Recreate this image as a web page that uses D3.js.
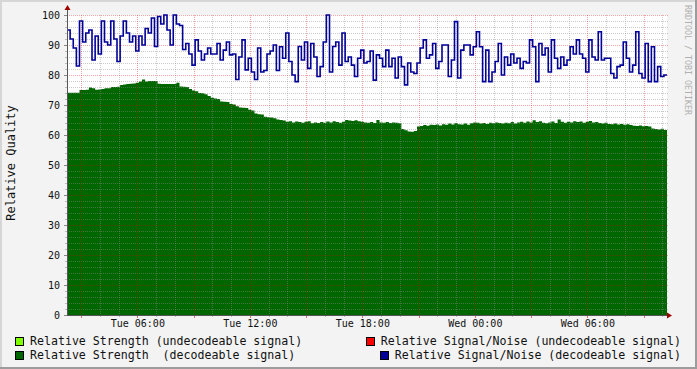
<!DOCTYPE html>
<html>
<head>
<meta charset="utf-8">
<script src="https://cdn.jsdelivr.net/npm/d3@7/dist/d3.min.js"></script>
<style>
  body { margin: 0; background: #f3f3f3; }
  text { font-family: "DejaVu Sans Mono", monospace; }
</style>
</head>
<body>
<div id="chart"></div>
<script>
//Time range of the graph (Tue 02:15 -> Wed 10:15), one sample every 10 minutes
var startTime = new Date(2000, 0, 4, 2, 15);
var endTime = new Date(2000, 0, 5, 10, 15);
var stepMinutes = 10;

//Relative Signal/Noise (decodeable signal)
var snrDecodeable = [
  95, 92, 89, 83, 98, 91, 94, 95, 85, 93, 87, 98, 91, 90, 98, 92, 84.5, 93, 98, 94, 91, 93, 88, 93, 90, 95.5, 94, 99, 89.5, 99.5, 97, 100,
  95, 90, 100, 97, 96.5, 88.5, 90.5, 87, 83.3, 91.7, 88, 85, 87, 89, 87, 87, 90.5, 85, 88.3, 91, 86.7, 87, 78.5, 86, 91.7, 81.7, 85.6, 81, 78.5, 89, 81, 81.5,
  87, 88, 90, 81.5, 89.4, 85.6, 94, 84.5, 80, 77.8, 89.5, 85, 91, 82.2, 90.5, 86, 79.5, 82.8, 91, 100, 81, 89.5, 91, 83.3, 94, 84.5, 86, 83.3, 79.5, 85.6, 88.3, 84,
  84.5, 88, 78.3, 86.7, 85.6, 82.8, 88.3, 82.8, 85.6, 79, 86, 82.8, 76.7, 84, 81, 80.5, 84, 89, 91.7, 85.6, 86.7, 90.5, 82.2, 84.5, 90, 90, 79.5, 85, 97.8, 79, 88.3, 90,
  90, 86.7, 89.4, 94.4, 89.4, 77.8, 88.3, 77.8, 81, 84.5, 90.5, 80, 86, 83.3, 87, 84, 85.6, 82.2, 84.5, 84, 91.7, 89.4, 77.8, 90.5, 86.7, 89, 81, 91.7, 85.6, 82.2, 86, 83.3,
  85, 89.4, 87, 91.7, 87, 85.6, 81, 91.7, 86, 85, 94.4, 85, 85.6, 85.6, 80.5, 79, 82.8, 83.3, 91, 85.6, 81, 83.3, 94.4, 80.5, 79, 90.5, 77.8, 89.4, 77.8, 82.8, 79.5, 80
];
//Relative Strength (decodeable signal)
var strengthDecodeable = [
  74.1, 74.1, 74.1, 74.1, 75, 75, 75.1, 75.8, 75.6, 75.1, 75.2, 75.3, 75.6, 75.6, 76, 76, 76.1, 76.7, 76.8, 77, 77.1, 77.2, 77.4, 77.8, 78.5, 77.8, 78, 78, 78, 77.1, 77, 77,
  77, 77, 77, 77.4, 76.2, 76.1, 76, 75.3, 74.8, 74.6, 74, 73.9, 73.6, 73, 72.4, 72.2, 72, 71.2, 71.1, 71, 70.3, 70.2, 69.6, 69.2, 69.1, 69, 68.4, 68.2, 67.2, 66.9, 66.8, 66.1,
  65.9, 65.8, 65.6, 65.2, 65, 64.8, 64.4, 64.6, 64.2, 64.5, 64.3, 64.1, 64.4, 64.6, 63.9, 64.2, 64, 64.3, 64.1, 64.5, 64.2, 64.6, 64.3, 64.1, 64.4, 65, 64.8, 64.7, 64.9, 64.6, 64.4, 64.2,
  64.1, 64.3, 64, 65, 64.2, 64.1, 64.3, 64, 64.2, 64.1, 63.9, 62, 61.6, 61.2, 61.1, 61.3, 62.8, 63, 63.3, 63.1, 63.4, 63.3, 63.5, 63.2, 63.6, 63.4, 63.8, 63.5, 64, 63.6, 63.5, 63.8,
  63.4, 63.9, 64.2, 64.1, 63.8, 64, 63.7, 64.1, 63.9, 64.2, 64, 63.8, 64.1, 63.9, 64.3, 63.8, 64.2, 64.4, 64.1, 64.5, 64.2, 64.9, 64.3, 64.6, 64.1, 63.9, 64.2, 64.5, 64, 65.2, 64.4, 64.1,
  64.4, 64.2, 64.6, 64.3, 64.5, 64.1, 64.4, 64.7, 64.2, 64.3, 64, 63.8, 64.1, 63.7, 63.6, 63.8, 63.5, 63.7, 63.4, 63.6, 63.3, 63.1, 63, 63.2, 62.9, 63, 62.8, 62.2, 62, 61.8, 62.1, 61.7
];
//Undecodeable series have no samples in this period
var strengthUndecodeable = [];
var snrUndecodeable = [];

var yTickValues = [0, 10, 20, 30, 40, 50, 60, 70, 80, 90, 100];
var legendLeft = [
  { label: "Relative Strength (undecodeable signal)", color: "#80ff00" },
  { label: "Relative Strength  (decodeable signal)", color: "#006600" }
];
var legendRight = [
  { label: "Relative Signal/Noise (undecodeable signal)", color: "#ff0000" },
  { label: "Relative Signal/Noise (decodeable signal)", color: "#000099" }
];

//Set sizes
var width = 697, height = 369;
var plot = { left: 67, right: 667, top: 15, bottom: 315 };

var svg = d3.select("#chart").append("svg")
  .attr("width", width)
  .attr("height", height)
  .style("display", "block");

//Background and 3d frame
svg.append("rect").attr("width", width).attr("height", height).attr("fill", "#f3f3f3");
svg.append("rect").attr("x", 0).attr("y", 0).attr("width", width).attr("height", 2).attr("fill", "#d6d6d6");
svg.append("rect").attr("x", 0).attr("y", 0).attr("width", 2).attr("height", height).attr("fill", "#d6d6d6");
svg.append("rect").attr("x", width - 2).attr("y", 0).attr("width", 2).attr("height", height).attr("fill", "#9c9c9c");
svg.append("rect").attr("x", 0).attr("y", height - 2).attr("width", width).attr("height", 2).attr("fill", "#9c9c9c");

//Canvas
svg.append("rect")
  .attr("x", plot.left).attr("y", plot.top)
  .attr("width", plot.right - plot.left).attr("height", plot.bottom - plot.top)
  .attr("fill", "#ffffff");

//Scales
var x = d3.scaleTime().domain([startTime, endTime]).range([plot.left, plot.right]);
var y = d3.scaleLinear().domain([0, 100]).range([plot.bottom, plot.top]);

function toPoints(values) {
  var pts = values.map(function(v, i) {
    return { t: new Date(startTime.getTime() + i * stepMinutes * 60000), v: v };
  });
  //close the last step
  pts.push({ t: new Date(startTime.getTime() + values.length * stepMinutes * 60000), v: values[values.length - 1] });
  return pts;
}

//Green area
var area = d3.area()
  .curve(d3.curveStepAfter)
  .x(function(d) { return x(d.t); })
  .y0(y(0))
  .y1(function(d) { return y(d.v); });
svg.append("path")
  .datum(toPoints(strengthDecodeable))
  .attr("d", area)
  .attr("fill", "#006600");

//Grid (drawn over the area, like rrdtool)
var px = function(v) { return Math.round(v) + 0.5; };
var minorH = y.ticks(50).filter(function(v) { return v % 10 !== 0; });
var majorH = yTickValues;
var minorV = x.ticks(d3.timeHour.every(1)).filter(function(d) { return d.getHours() % 3 !== 0; });
var majorV = x.ticks(d3.timeHour.every(3));

var grid = svg.append("g").attr("shape-rendering", "crispEdges");
grid.selectAll(".hminor").data(minorH).enter().append("line")
  .attr("x1", plot.left).attr("x2", plot.right + 2)
  .attr("y1", function(d) { return px(y(d)); }).attr("y2", function(d) { return px(y(d)); })
  .attr("stroke", "rgba(140,140,140,0.45)").attr("stroke-dasharray", "1,1");
grid.selectAll(".vminor").data(minorV).enter().append("line")
  .attr("y1", plot.top).attr("y2", plot.bottom)
  .attr("x1", function(d) { return px(x(d)); }).attr("x2", function(d) { return px(x(d)); })
  .attr("stroke", "rgba(140,140,140,0.45)").attr("stroke-dasharray", "1,1");
grid.selectAll(".hmajor").data(majorH.slice(1)).enter().append("line")
  .attr("x1", plot.left).attr("x2", plot.right + 2)
  .attr("y1", function(d) { return px(y(d)); }).attr("y2", function(d) { return px(y(d)); })
  .attr("stroke", "rgba(230,0,0,0.35)").attr("stroke-dasharray", "1,1");
grid.selectAll(".vmajor").data(majorV).enter().append("line")
  .attr("y1", plot.top).attr("y2", plot.bottom)
  .attr("x1", function(d) { return px(x(d)); }).attr("x2", function(d) { return px(x(d)); })
  .attr("stroke", "rgba(230,0,0,0.35)").attr("stroke-dasharray", "1,1");

//Tick marks
grid.selectAll(".yt").data(minorH).enter().append("line")
  .attr("x1", plot.left - 2).attr("x2", plot.left)
  .attr("y1", function(d) { return px(y(d)); }).attr("y2", function(d) { return px(y(d)); })
  .attr("stroke", "#bbbbbb");
grid.selectAll(".ytm").data(majorH).enter().append("line")
  .attr("x1", plot.left - 3).attr("x2", plot.left)
  .attr("y1", function(d) { return px(y(d)); }).attr("y2", function(d) { return px(y(d)); })
  .attr("stroke", "#888888");
grid.selectAll(".xt").data(minorV).enter().append("line")
  .attr("y1", plot.bottom).attr("y2", plot.bottom + 2)
  .attr("x1", function(d) { return px(x(d)); }).attr("x2", function(d) { return px(x(d)); })
  .attr("stroke", "#bbbbbb");
grid.selectAll(".xtm").data(majorV).enter().append("line")
  .attr("y1", plot.bottom).attr("y2", plot.bottom + 3)
  .attr("x1", function(d) { return px(x(d)); }).attr("x2", function(d) { return px(x(d)); })
  .attr("stroke", "#e07070");

//Blue line
var line = d3.line()
  .curve(d3.curveStepAfter)
  .x(function(d) { return x(d.t); })
  .y(function(d) { return y(d.v); });
svg.append("path")
  .datum(toPoints(snrDecodeable))
  .attr("d", line)
  .attr("fill", "none")
  .attr("stroke", "#000099")
  .attr("stroke-width", 1.6);

//Axes lines with arrows
svg.append("line")
  .attr("x1", plot.left + 0.5).attr("x2", plot.left + 0.5)
  .attr("y1", plot.bottom).attr("y2", plot.top - 6)
  .attr("stroke", "#555").attr("shape-rendering", "crispEdges");
svg.append("line")
  .attr("x1", plot.left).attr("x2", plot.right + 3)
  .attr("y1", plot.bottom + 0.5).attr("y2", plot.bottom + 0.5)
  .attr("stroke", "#555").attr("shape-rendering", "crispEdges");
svg.append("path")
  .attr("d", "M" + (plot.left - 2.5) + "," + (plot.top - 5) + "L" + (plot.left + 0.5) + "," + (plot.top - 10) + "L" + (plot.left + 3.5) + "," + (plot.top - 5) + "Z")
  .attr("fill", "#a00000");
svg.append("path")
  .attr("d", "M" + (plot.right) + "," + (plot.bottom - 2.5) + "L" + (plot.right + 5) + "," + (plot.bottom + 0.5) + "L" + (plot.right) + "," + (plot.bottom + 3.5) + "Z")
  .attr("fill", "#a00000");

//Y labels
svg.append("g").selectAll("text").data(yTickValues).enter().append("text")
  .attr("x", plot.left - 7)
  .attr("y", function(d) { return y(d) + 3.5; })
  .attr("text-anchor", "end")
  .attr("font-size", "10px")
  .attr("fill", "#111")
  .text(function(d) { return d; });

//X labels via d3 axis
var xAxis = d3.axisBottom(x)
  .ticks(d3.timeHour.every(6))
  .tickSize(0)
  .tickPadding(0)
  .tickFormat(d3.timeFormat("%a %H:%M"));
var xg = svg.append("g")
  .attr("transform", "translate(0," + (plot.bottom + 5) + ")")
  .call(xAxis);
xg.select(".domain").remove();
xg.selectAll("text")
  .attr("font-family", "DejaVu Sans Mono, monospace")
  .attr("font-size", "10px")
  .attr("fill", "#111")
  .attr("dy", "0.71em");
xg.selectAll(".tick").filter(function(d) { return x(d) < plot.left + 20; }).remove();

//Y title
svg.append("text")
  .attr("transform", "translate(15,163) rotate(-90)")
  .attr("text-anchor", "middle")
  .attr("font-size", "12px")
  .attr("fill", "#111")
  .text("Relative Quality");

//Watermark
svg.append("text")
  .attr("transform", "translate(685,5) rotate(90)")
  .attr("font-size", "8.3px")
  .attr("fill", "#b0b0b0")
  .text("RRDTOOL / TOBI OETIKER");

//Legend
var rowY = [345, 359];
legendLeft.forEach(function(d, i) {
  svg.append("rect")
    .attr("x", 15.5).attr("y", rowY[i] - 7.5)
    .attr("width", 8).attr("height", 8)
    .attr("fill", d.color).attr("stroke", "#000");
  svg.append("text")
    .attr("x", 30).attr("y", rowY[i])
    .attr("font-size", "11.6px")
    .attr("fill", "#111")
    .attr("xml:space", "preserve")
    .style("white-space", "pre")
    .text(d.label);
});
legendRight.forEach(function(d, i) {
  var t = svg.append("text")
    .attr("x", 681).attr("y", rowY[i])
    .attr("text-anchor", "end")
    .attr("font-size", "11.6px")
    .attr("fill", "#111")
    .text(d.label);
  var bx = t.node().getBBox().x;
  svg.append("rect")
    .attr("x", Math.round(bx - 15) + 0.5).attr("y", rowY[i] - 7.5)
    .attr("width", 8).attr("height", 8)
    .attr("fill", d.color).attr("stroke", "#000");
});
</script>
</body>
</html>
